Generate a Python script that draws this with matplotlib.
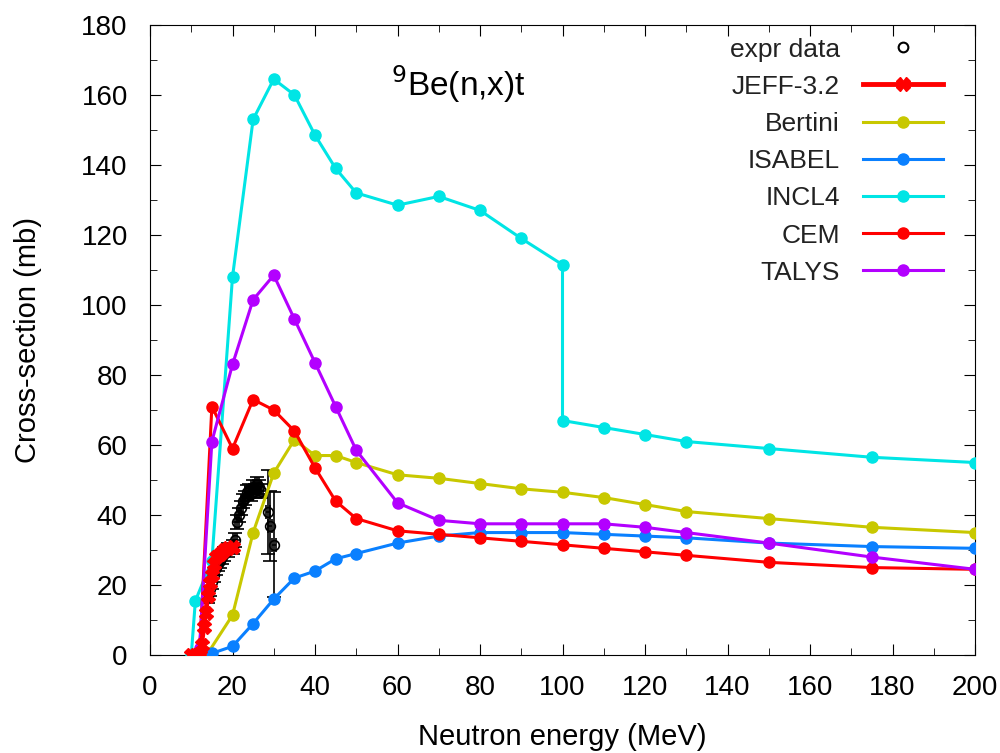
import numpy as np
import matplotlib.pyplot as plt
from matplotlib.ticker import MultipleLocator
from matplotlib.lines import Line2D

plt.rcParams['font.family'] = ['Liberation Sans', 'DejaVu Sans']

# experimental data
exp_e = [14, 14.5, 15, 15.5, 16, 16.5, 17, 17.5, 18, 19, 20, 20.5, 21, 21.5, 22, 22.5,
         23, 23.5, 24, 24.5, 25, 25.5, 26, 26.5, 27, 28.5, 29, 30]
exp_xs = [17, 19, 21, 23, 25, 26, 27, 28, 29, 30, 31, 33, 38, 40, 42, 44,
          45, 46.5, 47, 46, 48, 47, 49, 48, 47, 41, 37, 31.5]
exp_err = [2, 2, 2, 2, 2, 2, 2, 2, 2, 2, 2, 2, 2, 2, 2, 2,
           2, 2, 2, 2, 2, 2, 2, 2, 2, 12, 10, 15]

# JEFF-3.2 evaluation
jeff_e = [10, 11, 12, 12.5, 13, 13.5, 14, 14.5, 15, 15.5, 16, 17, 18, 19, 20]
jeff_xs = [0, 0, 0, 3, 8, 12, 17, 20.5, 23, 26, 28, 29, 30, 30.5, 31]

# model calculations
bert_e = [14, 20, 25, 30, 35, 40, 45, 50, 60, 70, 80, 90, 100, 110, 120, 130, 150, 175, 200]
bert_xs = [0.5, 11.4, 35, 52, 61.5, 57, 57, 55, 51.5, 50.5, 49, 47.5, 46.5, 45, 43, 41, 39, 36.5, 35]

isa_e = [15, 20, 25, 30, 35, 40, 45, 50, 60, 70, 80, 90, 100, 110, 120, 130, 150, 175, 200]
isa_xs = [0.5, 2.5, 9, 16, 22, 24, 27.5, 29, 32, 34, 35, 35, 35, 34.5, 34, 33.5, 32, 31, 30.5]

incl_e = [10, 11, 15, 20, 25, 30, 35, 40, 45, 50, 60, 70, 80, 90, 100, 100, 110, 120, 130, 150, 175, 200]
incl_xs = [0, 15.5, 27, 108, 153, 164.5, 160, 148.5, 139, 132, 128.5, 131, 127, 119, 111.5,
           67, 65, 63, 61, 59, 56.5, 55]

cem_e = [12, 15, 20, 25, 30, 35, 40, 45, 50, 60, 70, 80, 90, 100, 110, 120, 130, 150, 175, 200]
cem_xs = [0, 71, 59, 73, 70, 64, 53.5, 44, 39, 35.5, 34.5, 33.5, 32.5, 31.5, 30.5, 29.5, 28.5,
          26.5, 25, 24.5]

talys_e = [12, 15, 20, 25, 30, 35, 40, 45, 50, 60, 70, 80, 90, 100, 110, 120, 130, 150, 175, 200]
talys_xs = [2, 61, 83, 101.5, 108.5, 96, 83.5, 71, 58.5, 43.5, 38.5, 37.5, 37.5, 37.5, 37.5,
            36.5, 35, 32, 28, 24.5]

fig = plt.figure(figsize=(10, 7.53), dpi=100)
ax = fig.add_axes([0.15, 0.13, 0.825, 0.837])

ax.errorbar(exp_e, exp_xs, yerr=exp_err, xerr=0.5, fmt='o', mfc='none', mec='black',
            ecolor='black', ms=7, mew=1.2, elinewidth=1.2, capsize=5, zorder=2)
h_exp = Line2D([], [], ls='none', marker='o', mfc='none', mec='black', ms=7, mew=1.5)
h_jeff, = ax.plot(jeff_e, jeff_xs, color='#ff0000', lw=3.5, marker='X', ms=10, zorder=4)
h_bert, = ax.plot(bert_e, bert_xs, color='#c8c800', lw=2.2, marker='o', ms=8, zorder=3)
h_isa, = ax.plot(isa_e, isa_xs, color='#0a80ff', lw=2.2, marker='o', ms=8, zorder=3)
h_incl, = ax.plot(incl_e, incl_xs, color='#00e5e5', lw=2.2, marker='o', ms=8, zorder=3)
h_cem, = ax.plot(cem_e, cem_xs, color='#ff0000', lw=2.2, marker='o', ms=8, zorder=3)
h_tal, = ax.plot(talys_e, talys_xs, color='#b300ff', lw=2.2, marker='o', ms=8, zorder=3)

ax.set_xlim(0, 200)
ax.set_ylim(0, 180)
ax.xaxis.set_major_locator(MultipleLocator(20))
ax.yaxis.set_major_locator(MultipleLocator(20))
ax.xaxis.set_minor_locator(MultipleLocator(10))
ax.yaxis.set_minor_locator(MultipleLocator(10))
ax.tick_params(which='both', direction='in', top=True, right=True, labelsize=20)
ax.tick_params(which='major', length=8)
ax.tick_params(which='minor', length=5)
ax.tick_params(axis='x', pad=14)
ax.tick_params(axis='y', pad=16)
ax.set_xlabel('Neutron energy (MeV)', fontsize=21, labelpad=16)
ax.set_ylabel('Cross-section (mb)', fontsize=21, labelpad=28)

ax.text(58.5, 163, r'$^{9}$Be(n,x)t', fontsize=24, ha='left', va='center')

leg = ax.legend([h_exp, h_jeff, h_bert, h_isa, h_incl, h_cem, h_tal],
                ['expr data', 'JEFF-3.2', 'Bertini', 'ISABEL', 'INCL4', 'CEM', 'TALYS'],
                loc='upper right', frameon=False, markerfirst=False, fontsize=19,
                handlelength=3.0, handletextpad=0.9, labelspacing=0.5,
                borderaxespad=0.2, bbox_to_anchor=(0.98, 1.005))
for t in leg.get_texts():
    t.set_color('#222222')

fig.savefig('out.png', dpi=100)
